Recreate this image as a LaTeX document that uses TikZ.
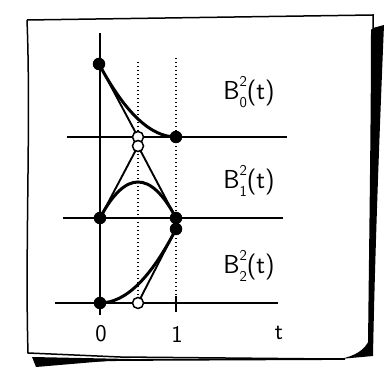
\documentclass[tikz,border=0pt]{standalone}
\usepackage{fontspec}
\usetikzlibrary{calc}
\newcommand\bern[1]{B\makebox[0pt][l]{\raisebox{0.5em}{\fontsize{15}{15}\selectfont 2}}\raisebox{-0.28em}{\fontsize{15}{15}\selectfont #1}(t)}
\begin{document}
\begin{tikzpicture}[x=1pt,y=-1pt,
  axis/.style={line width=1.8pt},
  curve/.style={line width=3pt},
  poly/.style={line width=1.9pt},
  guide/.style={line width=1.8pt, dash pattern=on 1.4pt off 2.6pt},
  fulldot/.style={circle, fill=black, inner sep=0pt, minimum size=12.5pt},
  opendot/.style={circle, draw=black, fill=white, line width=1.5pt, inner sep=0pt, minimum size=11pt},
  lbl/.style={font=\sffamily\fontsize{26}{28}\selectfont, inner sep=0pt},
  tick/.style={font=\sffamily\fontsize{24}{26}\selectfont, inner sep=0pt},
  frame/.style={line width=1.5pt}]
\useasboundingbox (0,0) rectangle (389,371);
\fill[white] (0,0) rectangle (389,371);
% paper frame
\draw[frame] (27,20) -- (373,15) -- (373,28);
\draw[frame] (27,20) .. controls (31,120) and (25,250) .. (28,353) -- (120,357) -- (330,359);
% shadows
\fill (373,28) -- (384,25) .. controls (380,120) and (375,250) .. (373,356) -- (368,346) .. controls (369,250) and (371,120) .. (371,30) -- cycle;
\fill (340,359) .. controls (355,356) and (365,350) .. (369,340) -- (373,356) -- cycle;
\fill (32,357) -- (130,359) -- (36,367) -- cycle;
\draw[line width=1.8pt] (36,362) -- (120,360) -- (345,359);
% coordinates
\coordinate (vt) at (100,33);
\coordinate (vb) at (100,315);
\coordinate (h0l) at (67,137);  \coordinate (h0r) at (287,137);
\coordinate (h1l) at (63,218);  \coordinate (h1r) at (283,218);
\coordinate (h2l) at (55,303);  \coordinate (h2r) at (278,303);
\coordinate (g1t) at (138,62);  \coordinate (g1b) at (138,298);
\coordinate (g2t) at (176,58);  \coordinate (g2b) at (176,296);
\coordinate (tk) at (176,312);
\coordinate (p0) at (99,64);   \coordinate (q0) at (138,137); \coordinate (r0) at (176,137);
\coordinate (p1) at (100,218); \coordinate (q1) at (138,146); \coordinate (r1) at (176,218);
\coordinate (p2) at (100,303); \coordinate (q2) at (138,303); \coordinate (r2) at (176,229);
% axes
\draw[axis] (vt) -- (vb);
\draw[axis] (h0l) -- (h0r);
\draw[axis] (h1l) -- (h1r);
\draw[axis] (h2l) -- (h2r);
\draw[guide] (g1t) -- (g1b);
\draw[guide] (g2t) -- (g2b);
\draw[axis] (g2b) -- (tk);
% control polygons
\draw[poly] (p0) -- (q0) -- (r0);
\draw[poly] (p1) -- (q1) -- (r1);
\draw[poly] (p2) -- (q2) -- (r2);
% curves (quadratic Bezier)
\draw[curve] (p0) .. controls ($(p0)!2/3!(q0)$) and ($(r0)!2/3!(q0)$) .. (r0);
\draw[curve] (p1) .. controls ($(p1)!2/3!(q1)$) and ($(r1)!2/3!(q1)$) .. (r1);
\draw[curve] (p2) .. controls ($(p2)!2/3!(q2)$) and ($(r2)!2/3!(q2)$) .. (r2);
% dots
\node[fulldot] (P0) at (p0) {};
\node[opendot] (Q0) at (q0) {};
\node[fulldot] (R0) at (r0) {};
\node[fulldot] (P1) at (p1) {};
\node[opendot] (Q1) at (q1) {};
\node[fulldot] (R1) at (r1) {};
\node[fulldot] (P2) at (p2) {};
\node[opendot] (Q2) at (q2) {};
\node[fulldot] (R2) at (r2) {};
% labels
\node[lbl] (L0) at (249,92) {\bern{0}};
\node[lbl] (L1) at (249,181) {\bern{1}};
\node[lbl] (L2) at (249,266) {\bern{2}};
\node[tick] (T0) at (101,334) {0};
\node[tick] (T1) at (177,334) {1};
\node[tick] (T2) at (279,333) {t};
\end{tikzpicture}
\end{document}
